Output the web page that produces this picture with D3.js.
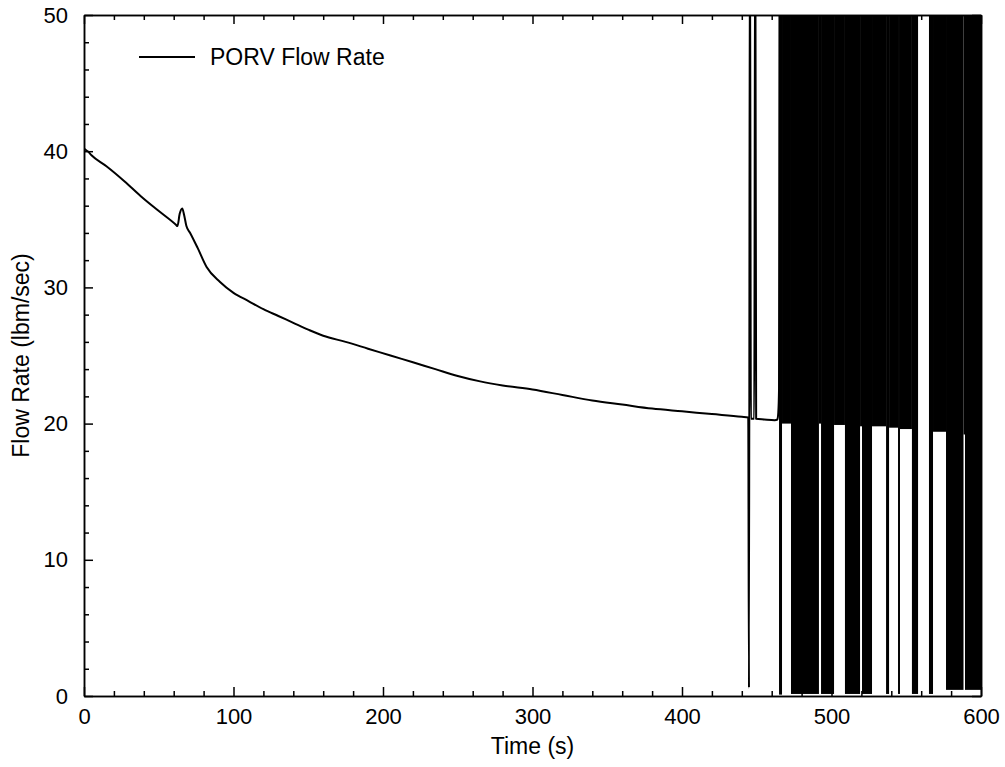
<!DOCTYPE html>
<html>
<head>
<meta charset="utf-8">
<script src="https://cdn.jsdelivr.net/npm/d3@7"></script>
<style>
  body { margin: 0; background: #fff; }
  text { font-family: "Liberation Sans", Arial, sans-serif; fill: #000; }
  .axis path, .axis line { stroke: #000; stroke-width: 1.5; }
  .axis text { font-size: 22px; }
</style>
</head>
<body>
<div id="chart"></div>
<script>
// PORV flow rate, smooth part of the transient
var time = [0, 1, 2.5, 5, 15, 27, 38, 49, 61.5, 62.5, 64, 65.7, 67, 68.5, 71, 76, 82, 91,
  100, 110, 120, 130, 140, 150, 160, 175, 190, 205, 220, 235, 250, 265, 280, 300, 320,
  340, 360, 380, 400, 420, 440, 444.3, 444.8, 445.4, 446.1, 448.3, 449, 449.6, 455, 462,
  463.8, 464.4, 464.9, 465.3];
var flow = [40.2, 40.1, 40.0, 39.7, 38.9, 37.8, 36.7, 35.7, 34.6, 34.5, 35.4, 35.8, 35.3, 34.5, 34.0, 32.9, 31.5, 30.4,
  29.6, 29.0, 28.4, 27.9, 27.4, 26.9, 26.45, 26.0, 25.5, 25.0, 24.5, 24.0, 23.5, 23.1, 22.8, 22.5, 22.1,
  21.7, 21.4, 21.1, 20.9, 20.7, 20.5, 20.45, 0.6, 60, 20.35, 20.35, 60, 20.35, 20.3, 20.25,
  20.3, 20.8, 22.5, 60];

// cycling region: valve chatter, each band is the envelope of the oscillation
var bandStart = [464.9, 466.9, 472.9, 491.6, 493.0, 501.7, 509.0, 519.1, 520.4, 527.1, 536.5, 538.5, 544.5, 545.8, 553.8, 565.2, 567.9, 576.6, 588.3, 589.3];
var bandEnd   = [466.9, 472.9, 491.6, 493.0, 501.7, 509.0, 519.1, 520.4, 527.1, 536.5, 538.5, 544.5, 545.8, 553.8, 557.9, 567.9, 576.6, 588.3, 589.3, 600];
var bandLow   = [0.1, 20.0, 0.15, 20.0, 0.15, 19.9, 0.15, 19.8, 0.15, 19.8, 0.15, 19.7, 0.15, 19.6, 0.15, 0.15, 19.4, 0.45, 19.2, 0.45];
var bandHigh  = [60, 60, 60, 60, 60, 60, 60, 60, 60, 60, 60, 60, 60, 60, 60, 60, 60, 60, 60, 60];

var xMajor = [0, 100, 200, 300, 400, 500, 600];
var yMajor = [0, 10, 20, 30, 40, 50];
var xMinor = d3.range(0, 601, 20).filter(d => d % 100 != 0);
var yMinor = d3.range(0, 51, 2).filter(d => d % 10 != 0);

var svgWidth = 1005;
var svgHeight = 767;
var margin = { top: 15, right: 24, bottom: 71, left: 84 };
var width = svgWidth - margin.left - margin.right;
var height = svgHeight - margin.top - margin.bottom;

var svg = d3.select("#chart")
  .append("svg")
  .attr("width", svgWidth)
  .attr("height", svgHeight);

var chartGroup = svg.append("g")
  .attr("transform", `translate(${margin.left}, ${margin.top})`);

var xScale = d3.scaleLinear().domain([0, 600]).range([0, width]);
var yScale = d3.scaleLinear().domain([0, 50]).range([height, 0]);

chartGroup.append("clipPath")
  .attr("id", "plotClip")
  .append("rect")
  .attr("width", width)
  .attr("height", height);

var plot = chartGroup.append("g").attr("clip-path", "url(#plotClip)");

// oscillation envelope
var bands = bandStart.map((d, i) => ({ t0: d, t1: bandEnd[i], lo: bandLow[i], hi: bandHigh[i] }));
plot.selectAll("rect.band")
  .data(bands)
  .enter()
  .append("rect")
  .attr("class", "band")
  .attr("x", d => xScale(d.t0))
  .attr("width", d => xScale(d.t1) - xScale(d.t0))
  .attr("y", d => yScale(d.hi))
  .attr("height", d => yScale(d.lo) - yScale(d.hi))
  .attr("fill", "#000");

var series = time.map((t, i) => [t, flow[i]]);
var line = d3.line()
  .curve(d3.curveMonotoneX)
  .x(d => xScale(d[0]))
  .y(d => yScale(d[1]));

plot.append("path")
  .datum(series)
  .attr("d", line)
  .attr("fill", "none")
  .attr("stroke", "#000")
  .attr("stroke-width", 2)
  .attr("stroke-linejoin", "round");

// axes, ticks pointing inwards on all four sides
chartGroup.append("g").attr("class", "axis")
  .attr("transform", `translate(0, ${height})`)
  .call(d3.axisBottom(xScale).tickValues(xMajor).tickSize(-9).tickSizeOuter(0).tickPadding(12).tickFormat(d3.format("d")));
chartGroup.append("g").attr("class", "axis")
  .attr("transform", `translate(0, ${height})`)
  .call(d3.axisBottom(xScale).tickValues(xMinor).tickSize(-5).tickSizeOuter(0).tickFormat(""));

chartGroup.append("g").attr("class", "axis")
  .call(d3.axisTop(xScale).tickValues(xMajor).tickSize(-9).tickSizeOuter(0).tickFormat(""));
chartGroup.append("g").attr("class", "axis")
  .call(d3.axisTop(xScale).tickValues(xMinor).tickSize(-5).tickSizeOuter(0).tickFormat(""));

chartGroup.append("g").attr("class", "axis")
  .call(d3.axisLeft(yScale).tickValues(yMajor).tickSize(-9).tickSizeOuter(0).tickPadding(16).tickFormat(d3.format("d")));
chartGroup.append("g").attr("class", "axis")
  .call(d3.axisLeft(yScale).tickValues(yMinor).tickSize(-5).tickSizeOuter(0).tickFormat(""));

chartGroup.append("g").attr("class", "axis")
  .attr("transform", `translate(${width}, 0)`)
  .call(d3.axisRight(yScale).tickValues(yMajor).tickSize(-9).tickSizeOuter(0).tickFormat(""));
chartGroup.append("g").attr("class", "axis")
  .attr("transform", `translate(${width}, 0)`)
  .call(d3.axisRight(yScale).tickValues(yMinor).tickSize(-5).tickSizeOuter(0).tickFormat(""));

// axis titles
chartGroup.append("text")
  .attr("transform", "rotate(-90)")
  .attr("x", 0 - height / 2)
  .attr("y", 0 - margin.left + 29)
  .attr("text-anchor", "middle")
  .style("font-size", "23px")
  .text("Flow Rate (lbm/sec)");

chartGroup.append("text")
  .attr("x", width / 2)
  .attr("y", height + 58)
  .attr("text-anchor", "middle")
  .style("font-size", "23px")
  .text("Time (s)");

// legend
var legend = chartGroup.append("g").attr("transform", "translate(55, 42)");
legend.append("line")
  .attr("x1", 0).attr("x2", 56)
  .attr("y1", 0).attr("y2", 0)
  .attr("stroke", "#000")
  .attr("stroke-width", 2);
legend.append("text")
  .attr("x", 71)
  .attr("y", 8)
  .style("font-size", "23px")
  .text("PORV Flow Rate");
</script>
</body>
</html>
